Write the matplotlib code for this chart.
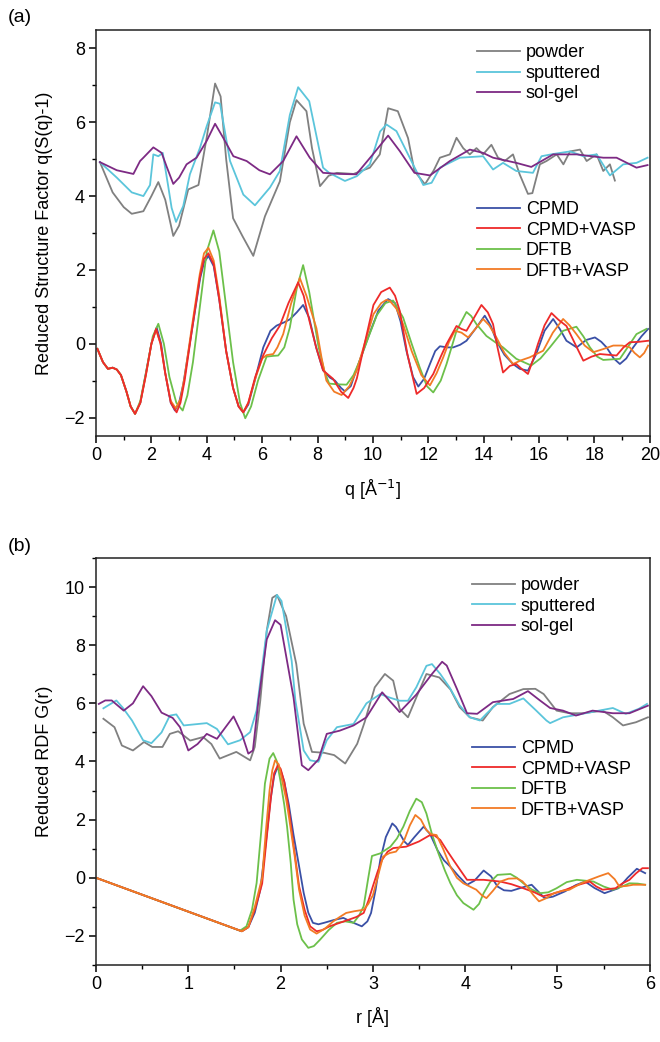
import matplotlib
matplotlib.use('Agg')
import matplotlib.pyplot as plt
from matplotlib.ticker import MultipleLocator

plt.rcParams['font.family'] = ['Liberation Sans', 'DejaVu Sans']
plt.rcParams['font.size'] = 13

# ---- (a) reduced structure factor ----
q_powder = [0.14, 0.6, 1.0, 1.29, 1.71, 2.0, 2.25, 2.5, 2.79, 3.0, 3.33, 3.7, 4.0, 4.3, 4.5, 4.7,
            4.95, 5.3, 5.68, 6.1, 6.64, 7.0, 7.24, 7.6, 7.8, 8.09, 8.4, 8.7, 9.3, 9.89, 10.25, 10.55,
            10.9, 11.27, 11.5, 11.88, 12.2, 12.42, 12.78, 13.02, 13.26, 13.5, 13.74, 13.98, 14.28,
            14.52, 14.76, 15.06, 15.3, 15.6, 15.76, 16.03, 16.27, 16.64, 16.88, 17.12, 17.48, 17.72,
            18.08, 18.32, 18.56, 18.74]
s_powder = [4.92, 4.1, 3.7, 3.52, 3.59, 4.0, 4.38, 3.9, 2.92, 3.2, 4.18, 4.3, 5.6, 7.05, 6.7, 5.0,
            3.4, 2.9, 2.38, 3.45, 4.4, 6.0, 6.6, 6.3, 5.3, 4.27, 4.55, 4.63, 4.6, 4.77, 5.13, 6.38,
            6.3, 5.57, 4.68, 4.32, 4.7, 5.04, 5.13, 5.58, 5.3, 5.13, 5.3, 5.13, 5.39,
            5.04, 4.95, 5.13, 4.59, 4.06, 4.08, 4.86, 4.95, 5.13, 4.86, 5.21, 5.26, 4.95,
            5.13, 4.68, 4.86, 4.42]

q_sputtered = [0.14, 0.75, 1.29, 1.71, 1.95, 2.07, 2.25, 2.41, 2.6, 2.73, 2.89, 3.15, 3.39, 3.75,
               4.0, 4.3, 4.48, 4.84, 5.32, 5.74, 6.28, 6.64, 7.0, 7.3, 7.7, 8.2, 8.42, 8.99, 9.42,
               9.89, 10.26, 10.49, 10.85, 11.27, 11.82, 12.12, 12.42, 13.14, 13.98, 14.34, 14.7,
               15.18, 15.78, 16.09, 16.51, 17.12, 17.6, 18.08, 18.56, 19.04, 19.52, 19.92]
s_sputtered = [4.92, 4.5, 4.1, 4.0, 4.3, 5.13, 5.08, 5.17, 4.3, 3.68, 3.3, 3.73, 4.59, 5.3,
               5.9, 6.54, 6.5, 4.95, 4.04, 3.75, 4.23, 4.68, 6.2, 6.95, 6.57, 4.77, 4.63, 4.41, 4.54,
               4.86, 5.75, 5.94, 5.76, 5.13, 4.3, 4.36, 4.77, 5.04, 5.08, 4.72, 4.9,
               4.68, 4.63, 5.08, 5.14, 5.21, 5.08, 5.13, 4.56, 4.86, 4.9, 5.04]

q_solgel = [0.14, 0.75, 1.35, 1.59, 1.71, 2.07, 2.37, 2.55, 2.79, 3.0, 3.27, 3.63, 4.0, 4.3, 4.6,
            4.96, 5.44, 5.9, 6.28, 6.76, 7.24, 7.72, 8.2, 8.8, 9.4, 10.0, 10.55, 10.97, 11.5, 12.06,
            12.78, 13.5, 13.98, 14.34, 15.18, 15.72, 16.51, 17.36, 18.32, 18.8, 19.52, 19.92]
s_solgel = [4.92, 4.7, 4.6, 4.95, 5.04, 5.32, 5.17, 4.8, 4.33, 4.5, 4.86, 5.04, 5.5, 5.96, 5.57,
            5.08, 4.95, 4.7, 4.59, 4.95, 5.62, 5.04, 4.63, 4.6, 4.59, 5.13, 5.64, 5.22, 4.63, 4.56,
            4.95, 5.26, 5.17, 5.04, 4.9, 4.79, 5.13, 5.13, 5.04, 5.04, 4.77, 4.84]

q_cpmd = [0.05, 0.25, 0.43, 0.6, 0.75, 0.9, 1.1, 1.25, 1.41, 1.6, 1.8, 2.0, 2.19, 2.35, 2.5, 2.7,
          2.85, 3.0, 3.15, 3.45, 3.76, 3.9, 4.06, 4.25, 4.45, 4.7, 4.95, 5.15, 5.32, 5.5, 5.75,
          6.04, 6.3, 6.52, 6.8, 7.0, 7.25, 7.48, 7.7, 7.95, 8.2, 8.45, 8.63, 8.85, 8.99, 9.2, 9.5,
          9.89, 10.2, 10.55, 10.8, 11.0, 11.21, 11.45, 11.64, 11.85, 12.06, 12.25, 12.42, 12.7,
          12.9, 13.15, 13.38, 13.7, 14.04, 14.25, 14.46, 14.75, 15.06, 15.3, 15.6, 15.9, 16.2,
          16.51, 16.75, 16.99, 17.36, 17.7, 18.02, 18.25, 18.44, 18.7, 18.92, 19.15, 19.4, 19.7,
          19.94]
s_cpmd = [-0.14, -0.5, -0.68, -0.65, -0.7, -0.85, -1.3, -1.7, -1.9, -1.6, -0.8, 0.0, 0.44, 0.0,
          -0.8, -1.6, -1.81, -1.6, -1.1, 0.3, 1.77, 2.2, 2.38, 2.1, 1.2, -0.2, -1.2, -1.7, -1.86,
          -1.65, -0.95, -0.1, 0.35, 0.49, 0.58, 0.66, 0.85, 1.05, 0.7, -0.1, -0.72, -0.92, -1.0,
          -1.2, -1.29, -1.15, -0.5, 0.3, 0.9, 1.21, 1.1, 0.6, -0.19, -0.9, -1.16, -0.95, -0.55,
          -0.2, -0.07, -0.1, -0.1, -0.03, 0.08, 0.4, 0.76, 0.5, 0.08, -0.3, -0.55, -0.68, -0.73,
          -0.28, 0.35, 0.67, 0.4, 0.08, -0.1, 0.1, 0.17, 0.05, -0.1, -0.4, -0.55, -0.4, -0.1,
          0.2, 0.4]

q_cpmd_vasp = [0.05, 0.25, 0.43, 0.6, 0.75, 0.9, 1.1, 1.25, 1.41, 1.6, 1.8, 2.0, 2.17, 2.33, 2.5,
               2.7, 2.91, 3.05, 3.2, 3.45, 3.75, 3.9, 4.06, 4.25, 4.45, 4.7, 4.95, 5.15, 5.32, 5.5,
               5.75, 6.04, 6.35, 6.64, 6.95, 7.3, 7.5, 7.7, 7.95, 8.2, 8.4, 8.56, 8.85, 9.11, 9.3,
               9.42, 9.7, 10.02, 10.3, 10.61, 10.8, 10.97, 11.25, 11.58, 11.85, 12.18, 12.45, 12.66,
               13.02, 13.2, 13.38, 13.65, 13.92, 14.15, 14.34, 14.5, 14.7, 14.95, 15.18, 15.4, 15.6,
               15.8, 15.96, 16.2, 16.45, 16.7, 16.99, 17.3, 17.6, 17.9, 18.2, 18.5, 18.8, 19.05,
               19.28, 19.6, 19.94]
s_cpmd_vasp = [-0.14, -0.5, -0.68, -0.65, -0.7, -0.85, -1.3, -1.7, -1.9, -1.6, -0.85, 0.0, 0.4,
               0.0, -0.8, -1.6, -1.86, -1.6, -1.0, 0.3, 1.8, 2.3, 2.45, 2.15, 1.2, -0.2, -1.2, -1.7,
               -1.86, -1.6, -0.9, -0.31, 0.15, 0.49, 1.1, 1.66, 1.3, 0.64, -0.1, -0.72, -0.85,
               -0.95, -1.3, -1.47, -1.2, -0.94, 0.0, 1.05, 1.4, 1.52, 1.3, 0.89, -0.3, -1.36, -1.2,
               -0.82, -0.35, -0.01, 0.48, 0.4, 0.35, 0.7, 1.05, 0.85, 0.53, -0.1, -0.78, -0.6,
               -0.55, -0.7, -0.82, -0.4, -0.01, 0.5, 0.83, 0.65, 0.48, 0.0, -0.46, -0.35, -0.28,
               -0.3, -0.32, -0.1, 0.04, 0.05, 0.08]

q_dftb = [0.05, 0.25, 0.43, 0.6, 0.75, 0.9, 1.1, 1.25, 1.41, 1.6, 1.8, 2.05, 2.25, 2.45, 2.65, 2.9,
          3.13, 3.3, 3.5, 3.75, 4.0, 4.24, 4.45, 4.7, 4.95, 5.2, 5.39, 5.6, 5.85, 6.16, 6.4, 6.58,
          6.8, 7.0, 7.25, 7.48, 7.7, 8.04, 8.25, 8.42, 8.7, 9.05, 9.3, 9.53, 9.85, 10.14, 10.45,
          10.73, 11.09, 11.4, 11.69, 11.95, 12.18, 12.45, 12.66, 13.02, 13.38, 13.55, 13.74, 14.1,
          14.4, 14.7, 15.18, 15.72, 16.05, 16.39, 16.87, 17.35, 17.6, 17.84, 18.1, 18.32, 18.92,
          19.2, 19.52, 19.88]
s_dftb = [-0.14, -0.5, -0.68, -0.65, -0.7, -0.85, -1.3, -1.7, -1.9, -1.55, -0.8, 0.2, 0.54, 0.0,
          -0.9, -1.6, -1.81, -1.4, -0.5, 1.0, 2.5, 3.07, 2.5, 1.0, -0.5, -1.6, -2.02, -1.7, -1.0,
          -0.35, -0.33, -0.32, -0.1, 0.44, 1.5, 2.13, 1.4, -0.1, -0.75, -1.08, -1.1, -1.11, -0.85,
          -0.45, 0.2, 0.77, 1.1, 1.17, 0.71, 0.0, -0.64, -1.15, -1.32, -1.0, -0.55, 0.35, 0.86,
          0.75, 0.53, 0.21, 0.05, -0.1, -0.41, -0.59, -0.4, -0.1, 0.35, 0.46, 0.2, -0.1, -0.35,
          -0.44, -0.41, -0.1, 0.26, 0.4]

q_dftb_vasp = [0.05, 0.25, 0.43, 0.6, 0.75, 0.9, 1.1, 1.25, 1.41, 1.6, 1.8, 2.0, 2.17, 2.33, 2.5,
               2.7, 2.88, 3.05, 3.2, 3.45, 3.75, 3.9, 4.06, 4.25, 4.45, 4.7, 4.95, 5.15, 5.32, 5.5,
               5.75, 6.0, 6.16, 6.4, 6.55, 6.76, 7.05, 7.36, 7.6, 7.96, 8.15, 8.32, 8.6, 8.87, 9.15,
               9.42, 9.7, 10.02, 10.3, 10.49, 10.61, 10.85, 11.09, 11.4, 11.75, 12.06, 12.3, 12.54,
               12.75, 12.96, 13.2, 13.44, 13.7, 13.98, 14.2, 14.46, 14.75, 15.06, 15.35, 15.66,
               16.15, 16.5, 16.87, 17.1, 17.35, 17.65, 17.96, 18.3, 18.68, 19.0, 19.28, 19.45,
               19.64, 19.8, 19.94]
s_dftb_vasp = [-0.14, -0.5, -0.68, -0.65, -0.7, -0.85, -1.3, -1.7, -1.9, -1.6, -0.85, 0.0, 0.38,
               0.0, -0.8, -1.55, -1.75, -1.5, -0.9, 0.4, 1.9, 2.45, 2.6, 2.25, 1.3, -0.2, -1.2,
               -1.7, -1.86, -1.6, -0.95, -0.4, -0.31, -0.28, -0.1, 0.26, 1.1, 1.78, 1.3, 0.42,
               -0.4, -1.0, -1.3, -1.39, -1.15, -0.72, 0.0, 0.8, 1.1, 1.19, 1.16, 0.95, 0.53, -0.2,
               -0.85, -1.13, -0.8, -0.37, 0.05, 0.35, 0.3, 0.17, 0.4, 0.67, 0.5, 0.17, -0.25, -0.55,
               -0.45, -0.37, -0.19, 0.3, 0.67, 0.5, 0.26, -0.05, -0.23, -0.15, -0.05, -0.05, -0.1,
               -0.25, -0.37, -0.25, -0.05]

# ---- (b) reduced RDF ----
r_powder = [0.08, 0.2, 0.28, 0.4, 0.52, 0.61, 0.72, 0.8, 0.89, 1.02, 1.16, 1.25, 1.34, 1.52, 1.67,
            1.72, 1.78, 1.85, 1.91, 1.96, 2.06, 2.17, 2.25, 2.34, 2.47, 2.58, 2.7, 2.83, 2.91, 3.02,
            3.13, 3.22, 3.29, 3.38, 3.47, 3.58, 3.72, 3.84, 3.94, 4.05, 4.19, 4.3, 4.48, 4.63, 4.76,
            4.85, 4.99, 5.13, 5.28, 5.49, 5.6, 5.71, 5.85, 5.98]
g_powder = [5.47, 5.18, 4.55, 4.38, 4.67, 4.5, 4.5, 4.95, 5.04, 4.72, 4.84, 4.6, 4.1, 4.33, 4.04,
            4.5, 6.1, 8.5, 9.63, 9.73, 9.0, 7.35, 5.3, 4.33, 4.3, 4.22, 3.93, 4.61, 5.35, 6.55,
            7.01, 6.78, 5.81, 5.52, 6.2, 7.01, 6.89, 6.48, 5.87, 5.52, 5.41, 5.87, 6.32, 6.49, 6.5,
            6.32, 5.75, 5.66, 5.66, 5.75, 5.52, 5.24, 5.35, 5.52]

r_sputtered = [0.08, 0.22, 0.29, 0.39, 0.51, 0.6, 0.71, 0.8, 0.87, 0.95, 1.2, 1.31, 1.43, 1.56,
               1.67, 1.74, 1.85, 1.96, 2.01, 2.12, 2.16, 2.25, 2.32, 2.41, 2.5, 2.61, 2.79, 2.93,
               3.08, 3.18, 3.29, 3.38, 3.47, 3.58, 3.64, 3.73, 3.83, 3.94, 4.05, 4.16, 4.23, 4.34,
               4.48, 4.63, 4.77, 4.88, 4.92, 5.06, 5.27, 5.45, 5.6, 5.74, 5.88, 5.97]
g_sputtered = [5.83, 6.1, 5.85, 5.41, 4.73, 4.63, 5.0, 5.58, 5.62, 5.24, 5.32, 5.12, 4.59, 4.73,
               5.01, 5.76, 8.5, 9.73, 9.52, 7.46, 6.1, 4.38, 4.04, 3.99, 4.73, 5.18, 5.29, 6.0,
               6.32, 6.2, 6.09, 6.09, 6.55, 7.29, 7.35, 7.01, 6.55, 5.93, 5.52, 5.41, 5.64, 5.98,
               5.98, 6.17, 5.75, 5.41, 5.32, 5.52, 5.64, 5.75, 5.84, 5.64, 5.81, 5.98]

r_solgel = [0.03, 0.1, 0.17, 0.3, 0.4, 0.51, 0.6, 0.71, 0.83, 0.91, 1.0, 1.1, 1.2, 1.31, 1.49, 1.58,
            1.65, 1.7, 1.76, 1.85, 1.94, 2.0, 2.14, 2.23, 2.3, 2.41, 2.5, 2.64, 2.79, 2.93, 3.1,
            3.29, 3.47, 3.64, 3.75, 3.8, 3.91, 4.02, 4.13, 4.3, 4.52, 4.68, 4.81, 4.92, 5.06, 5.2,
            5.38, 5.6, 5.78, 5.98]
g_solgel = [5.98, 6.1, 6.1, 5.75, 6.0, 6.59, 6.25, 5.68, 5.5, 5.18, 4.38, 4.6, 4.95, 4.78, 5.55,
            4.95, 4.27, 4.38, 6.1, 8.2, 8.86, 8.7, 6.2, 3.87, 3.7, 4.07, 4.95, 5.06, 5.24, 5.52,
            6.38, 5.7, 6.3, 7.01, 7.43, 7.3, 6.5, 5.66, 5.64, 6.04, 6.15, 6.42, 6.1, 5.84, 5.75,
            5.58, 5.75, 5.66, 5.66, 5.92]

r_cpmd = [0.0, 1.58, 1.65, 1.72, 1.78, 1.84, 1.89, 1.93, 1.96, 2.0, 2.04, 2.09, 2.14, 2.2, 2.25,
          2.3, 2.35, 2.41, 2.47, 2.58, 2.68, 2.79, 2.88, 2.94, 2.98, 3.03, 3.08, 3.14, 3.21, 3.25,
          3.29, 3.34, 3.38, 3.45, 3.55, 3.62, 3.7, 3.77, 3.84, 3.93, 4.02, 4.1, 4.2, 4.28, 4.35,
          4.42, 4.5, 4.6, 4.72, 4.8, 4.86, 4.95, 5.08, 5.2, 5.3, 5.4, 5.51, 5.66, 5.76, 5.86, 5.95]
g_cpmd = [0.0, -1.84, -1.7, -1.2, -0.41, 1.2, 2.67, 3.5, 3.76, 3.7, 3.3, 2.5, 1.48, 0.4, -0.52,
          -1.2, -1.55, -1.6, -1.55, -1.45, -1.38, -1.55, -1.67, -1.5, -1.21, -0.4, 0.62, 1.4, 1.87,
          1.75, 1.53, 1.25, 1.13, 1.4, 1.76, 1.5, 0.95, 0.6, 0.38, 0.05, -0.24, -0.1, 0.25, 0.05,
          -0.3, -0.43, -0.45, -0.35, -0.24, -0.5, -0.7, -0.65, -0.47, -0.25, -0.13, -0.35, -0.53,
          -0.36, 0.0, 0.31, 0.16]

r_cpmd_vasp = [0.0, 1.58, 1.65, 1.72, 1.8, 1.85, 1.9, 1.93, 1.97, 2.0, 2.04, 2.09, 2.15, 2.2, 2.26,
               2.32, 2.39, 2.45, 2.53, 2.64, 2.74, 2.82, 2.9, 2.95, 3.0, 3.05, 3.1, 3.16, 3.22, 3.3,
               3.36, 3.5, 3.62, 3.67, 3.73, 3.8, 3.87, 3.95, 4.02, 4.2, 4.38, 4.5, 4.63, 4.75, 4.84,
               4.95, 5.09, 5.22, 5.35, 5.42, 5.49, 5.63, 5.7, 5.78, 5.85, 5.92, 5.98]
g_cpmd_vasp = [0.0, -1.84, -1.7, -1.1, -0.2, 1.4, 2.9, 3.6, 3.87, 3.75, 3.3, 2.32, 0.9, -0.29,
               -1.1, -1.67, -1.84, -1.8, -1.67, -1.55, -1.44, -1.35, -1.21, -0.8, -0.29, 0.2, 0.62,
               0.9, 1.02, 1.05, 1.07, 1.25, 1.47, 1.45, 1.3, 0.95, 0.62, 0.25, -0.07, -0.07, -0.13,
               -0.22, -0.36, -0.5, -0.64, -0.55, -0.41, -0.25, -0.13, -0.3, -0.41, -0.36, -0.2,
               -0.07, 0.15, 0.33, 0.33]

r_dftb = [0.0, 1.56, 1.63, 1.69, 1.74, 1.79, 1.83, 1.88, 1.92, 1.96, 2.0, 2.04, 2.07, 2.11, 2.14,
          2.18, 2.23, 2.3, 2.36, 2.43, 2.52, 2.61, 2.7, 2.79, 2.85, 2.9, 2.95, 2.99, 3.08, 3.19,
          3.26, 3.33, 3.4, 3.47, 3.53, 3.58, 3.64, 3.71, 3.78, 3.84, 3.91, 3.98, 4.09, 4.15, 4.2,
          4.27, 4.35, 4.49, 4.56, 4.63, 4.72, 4.81, 4.9, 4.99, 5.1, 5.21, 5.3, 5.39, 5.5, 5.6, 5.7,
          5.78, 5.87, 5.95]
g_dftb = [0.0, -1.82, -1.67, -1.1, -0.18, 1.6, 3.24, 4.1, 4.29, 4.0, 3.3, 2.5, 1.76, 0.5, -0.75,
          -1.6, -2.12, -2.41, -2.35, -2.12, -1.8, -1.55, -1.5, -1.55, -1.3, -0.98, 0.0, 0.75, 0.84,
          1.07, 1.35, 1.76, 2.3, 2.72, 2.6, 2.21, 1.5, 0.84, 0.25, -0.19, -0.6, -0.87, -1.1, -0.9,
          -0.53, -0.15, 0.1, 0.13, 0.0, -0.19, -0.4, -0.53, -0.5, -0.36, -0.15, -0.07, -0.1, -0.13,
          -0.3, -0.41, -0.3, -0.19, -0.2, -0.24]

r_dftb_vasp = [0.0, 1.58, 1.65, 1.72, 1.8, 1.84, 1.88, 1.91, 1.94, 1.98, 2.02, 2.06, 2.09, 2.15,
               2.2, 2.26, 2.32, 2.39, 2.48, 2.57, 2.64, 2.71, 2.8, 2.9, 2.95, 3.0, 3.05, 3.11, 3.18,
               3.25, 3.3, 3.34, 3.4, 3.46, 3.52, 3.58, 3.63, 3.69, 3.76, 3.84, 3.91, 3.98, 4.05,
               4.12, 4.18, 4.23, 4.3, 4.38, 4.47, 4.56, 4.62, 4.67, 4.74, 4.8, 4.88, 4.96, 5.05,
               5.13, 5.25, 5.35, 5.45, 5.55, 5.62, 5.67, 5.75, 5.82, 5.95]
g_dftb_vasp = [0.0, -1.84, -1.7, -1.0, 0.0, 1.6, 3.0, 3.7, 4.04, 3.9, 3.3, 2.7, 2.1, 0.8, -0.41,
               -1.3, -1.78, -1.92, -1.75, -1.5, -1.35, -1.21, -1.15, -1.1, -0.9, -0.6, 0.0, 0.73,
               0.85, 0.9, 1.1, 1.3, 1.8, 2.16, 2.0, 1.64, 1.5, 1.47, 1.0, 0.38, 0.0, -0.19, -0.3,
               -0.41, -0.6, -0.7, -0.45, -0.13, -0.03, -0.02, -0.12, -0.3, -0.6, -0.81, -0.7, -0.53,
               -0.45, -0.41, -0.2, -0.07, 0.05, 0.16, -0.05, -0.3, -0.28, -0.24, -0.24]

c_powder = '#808080'
c_sputtered = '#5bc5db'
c_solgel = '#7d2a84'
c_cpmd = '#3a50a6'
c_cpmd_vasp = '#ee2a2a'
c_dftb = '#6cc04a'
c_dftb_vasp = '#f27b25'
lw = 1.3

fig = plt.figure(figsize=(6.6, 10.42), dpi=100)
ax1 = fig.add_axes([0.1455, 0.5816, 0.839, 0.3896])
ax2 = fig.add_axes([0.1455, 0.0739, 0.839, 0.3906])

exp1 = []
exp1 += ax1.plot(q_powder, s_powder, color=c_powder, lw=lw, label='powder')
exp1 += ax1.plot(q_sputtered, s_sputtered, color=c_sputtered, lw=lw, label='sputtered')
exp1 += ax1.plot(q_solgel, s_solgel, color=c_solgel, lw=lw, label='sol-gel')
sim1 = []
sim1 += ax1.plot(q_cpmd, s_cpmd, color=c_cpmd, lw=lw, label='CPMD')
sim1 += ax1.plot(q_dftb, s_dftb, color=c_dftb, lw=lw, label='DFTB')
sim1 += ax1.plot(q_dftb_vasp, s_dftb_vasp, color=c_dftb_vasp, lw=lw, label='DFTB+VASP')
sim1 += ax1.plot(q_cpmd_vasp, s_cpmd_vasp, color=c_cpmd_vasp, lw=lw, label='CPMD+VASP')
sim1 = [sim1[0], sim1[3], sim1[1], sim1[2]]

exp2 = []
exp2 += ax2.plot(r_powder, g_powder, color=c_powder, lw=lw, label='powder')
exp2 += ax2.plot(r_sputtered, g_sputtered, color=c_sputtered, lw=lw, label='sputtered')
exp2 += ax2.plot(r_solgel, g_solgel, color=c_solgel, lw=lw, label='sol-gel')
sim2 = []
sim2 += ax2.plot(r_cpmd, g_cpmd, color=c_cpmd, lw=lw, label='CPMD')
sim2 += ax2.plot(r_dftb, g_dftb, color=c_dftb, lw=lw, label='DFTB')
sim2 += ax2.plot(r_cpmd_vasp, g_cpmd_vasp, color=c_cpmd_vasp, lw=lw, label='CPMD+VASP')
sim2 += ax2.plot(r_dftb_vasp, g_dftb_vasp, color=c_dftb_vasp, lw=lw, label='DFTB+VASP')
sim2 = [sim2[0], sim2[2], sim2[1], sim2[3]]

leg_kw = dict(frameon=False, fontsize=13, handlelength=2.4, handletextpad=0.3,
              labelspacing=0.2, borderpad=0, borderaxespad=0, loc='upper left')
l1 = ax1.legend(handles=exp1, bbox_to_anchor=(0.688, 0.965), **leg_kw)
ax1.add_artist(l1)
ax1.legend(handles=sim1, bbox_to_anchor=(0.688, 0.579), **leg_kw)
l2 = ax2.legend(handles=exp2, bbox_to_anchor=(0.679, 0.953), **leg_kw)
ax2.add_artist(l2)
ax2.legend(handles=sim2, bbox_to_anchor=(0.679, 0.553), **leg_kw)

ax1.set_xlim(0, 20)
ax1.set_ylim(-2.5, 8.5)
ax1.xaxis.set_major_locator(MultipleLocator(2))
ax1.xaxis.set_minor_locator(MultipleLocator(1))
ax1.yaxis.set_major_locator(MultipleLocator(2))
ax1.yaxis.set_minor_locator(MultipleLocator(1))
ax1.set_xlabel('q [Å$^{-1}$]')
ax1.set_ylabel('Reduced Structure Factor q(S(q)-1)')

ax2.set_xlim(0, 6)
ax2.set_ylim(-3, 11)
ax2.xaxis.set_major_locator(MultipleLocator(1))
ax2.xaxis.set_minor_locator(MultipleLocator(0.5))
ax2.yaxis.set_major_locator(MultipleLocator(2))
ax2.yaxis.set_minor_locator(MultipleLocator(1))
ax2.set_xlabel('r [Å]')
ax2.set_ylabel('Reduced RDF G(r)')

for ax in (ax1, ax2):
    for sp in ax.spines.values():
        sp.set_linewidth(1.1)
        sp.set_color('#222222')
    ax.tick_params(which='major', direction='out', length=5, width=1.1, labelsize=13, pad=3)
    ax.tick_params(which='minor', direction='out', length=3, width=1.0)
    ax.xaxis.labelpad = 10
    ax.yaxis.labelpad = 8

fig.text(0.012, 0.983, '(a)', fontsize=14, va='center', ha='left')
fig.text(0.012, 0.476, '(b)', fontsize=14, va='center', ha='left')

fig.savefig('out.png', dpi=100)
